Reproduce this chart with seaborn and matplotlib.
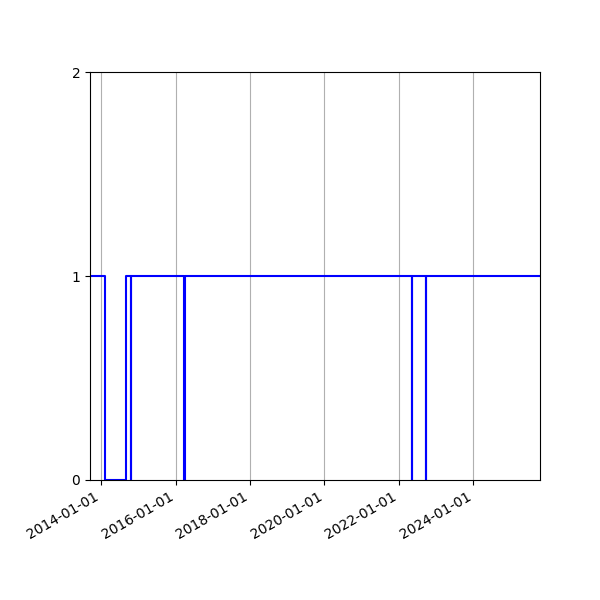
import pandas as pd
import seaborn as sns
import matplotlib
matplotlib.use("Agg")
import matplotlib.pyplot as plt
import matplotlib.dates as mdates


# step series: 1 = up, 0 = down
dates = [
    "2013-09-01", "2014-02-06", "2014-08-31", "2014-10-16", "2014-10-17",
    "2016-03-20", "2016-04-01", "2022-05-12", "2022-05-13",
    "2022-09-24", "2022-09-25", "2025-12-31",
]
values = [1, 0, 1, 0, 1, 0, 1, 0, 1, 0, 1, 1]
yticks = [0, 1, 2]

df = pd.DataFrame({"date": pd.to_datetime(dates), "value": values})

fig, ax = plt.subplots(figsize=(6, 6), dpi=100)
fig.subplots_adjust(left=0.15, right=0.9, bottom=0.2, top=0.88)

sns.lineplot(data=df, x="date", y="value", drawstyle="steps-post",
             color="blue", linewidth=1.5, ax=ax)

ax.set_xlim(pd.Timestamp("2013-09-12"), pd.Timestamp("2025-10-17"))
ax.set_ylim(0, 2)
ax.set_yticks(yticks)
ax.xaxis.set_major_locator(mdates.YearLocator(2))
ax.xaxis.set_major_formatter(mdates.DateFormatter("%Y-%m-%d"))
ax.grid(axis="x")
ax.set_xlabel("")
ax.set_ylabel("")
for lbl in ax.get_xticklabels():
    lbl.set_rotation(30)
    lbl.set_horizontalalignment("right")

fig.savefig("out.png")
